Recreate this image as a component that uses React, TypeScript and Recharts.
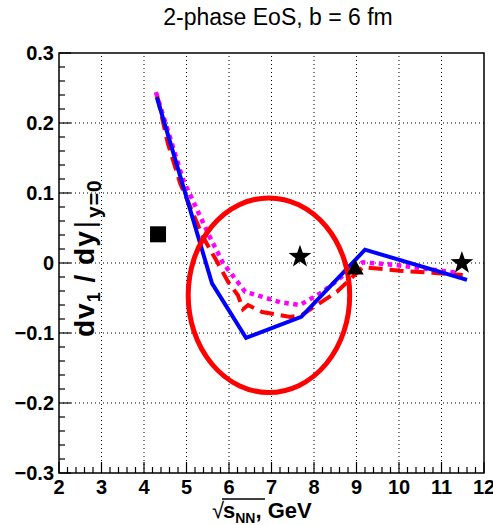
import React from "react";
import {
  ComposedChart,
  XAxis,
  YAxis,
  Line,
  Scatter,
  ReferenceLine,
  ReferenceArea,
} from "recharts";

// axis ticks / labels
const xMajor = [2, 3, 4, 5, 6, 7, 8, 9, 10, 11, 12];
const yMajor = [-0.3, -0.2, -0.1, 0, 0.1, 0.2, 0.3];
const yLabels = ["\u22120.3", "\u22120.2", "\u22120.1", "0", "0.1", "0.2", "0.3"];

// model curves: sqrt(s_NN) [GeV] vs dv1/dy
const blueX = [4.3, 5.6, 6.4, 7.7, 9.2, 11.6];
const blueY = [0.237, -0.029, -0.107, -0.077, 0.019, -0.024];

const redX = [4.31, 4.56, 4.85, 5.39, 5.67, 5.98, 6.21, 6.33, 6.45, 6.78, 7.44, 7.72, 8.54, 9.15, 10.02, 11.5];
const redY = [0.239, 0.171, 0.114, 0.037, 0.007, -0.027, -0.046, -0.066, -0.06, -0.07, -0.077, -0.074, -0.041, -0.006, -0.011, -0.017];

const magX = [4.28, 4.92, 5.55, 5.86, 6.38, 7.2, 7.67, 8.21, 8.85, 9.15, 9.95, 11.36];
const magY = [0.244, 0.119, 0.037, 0.0, -0.041, -0.056, -0.06, -0.041, -0.01, 0.001, -0.003, -0.014];

// experimental points
const squareX = [4.33];
const squareY = [0.041];
const starX = [7.67, 11.48];
const starY = [0.009, 0.0];
const triX = [8.97];
const triY = [-0.008];

// highlighted region (center, half-axes in data units)
const ellipseX = [6.94];
const ellipseY = [-0.046];
const ellipseRx = [1.9];
const ellipseRy = [0.139];

const W = 493;
const H = 525;
const LEFT = 59;
const RIGHT = 9;
const TOP = 53;
const BOTTOM = 52;
const PX_PER_X = (W - LEFT - RIGHT) / 10;
const PX_PER_Y = (H - TOP - BOTTOM) / 0.6;

const FONT = "'Liberation Sans', Arial, Helvetica, sans-serif";

const pts = (xs: number[], ys: number[]) => xs.map((x, i) => ({ x, y: ys[i] }));

const blue = pts(blueX, blueY);
const red = pts(redX, redY);
const magenta = pts(magX, magY);
const squares = pts(squareX, squareY);
const stars = pts(starX, starY);
const tris = pts(triX, triY);
const ellipse = ellipseX.map((x, i) => ({ x, y: ellipseY[i], rx: ellipseRx[i], ry: ellipseRy[i] }));

const xTicks: number[] = [];
xMajor.forEach((v, i) => {
  if (i === xMajor.length - 1) return xTicks.push(v);
  for (let k = 0; k < 5; k++) xTicks.push(Math.round((v + k * 0.2) * 10) / 10);
});
const yTicks: number[] = [];
yMajor.forEach((v, i) => {
  if (i === yMajor.length - 1) return yTicks.push(v);
  for (let k = 0; k < 5; k++) yTicks.push(Math.round((v + k * 0.02) * 100) / 100);
});

const isMajorX = (v: number) => xMajor.includes(v);
const majorYIndex = (v: number) => yMajor.findIndex((m) => Math.abs(m - v) < 1e-6);

function XTick(props: any) {
  const { x, y, payload } = props;
  const major = isMajorX(payload.value);
  return (
    <g>
      <line x1={x} x2={x} y1={y} y2={y - (major ? 11 : 6)} stroke="#000" strokeWidth={1.2} />
      {major && (
        <text x={x} y={y + 21} textAnchor="middle" fontSize={20} fontWeight="bold" fontFamily={FONT} fill="#000">
          {payload.value}
        </text>
      )}
    </g>
  );
}

function YTick(props: any) {
  const { x, y, payload } = props;
  const idx = majorYIndex(payload.value);
  const major = idx >= 0;
  return (
    <g>
      <line x1={x} x2={x + (major ? 12 : 6)} y1={y} y2={y} stroke="#000" strokeWidth={1.2} />
      {major && (
        <text x={x - 5} y={y + 7} textAnchor="end" fontSize={20} fontWeight="bold" fontFamily={FONT} fill="#000">
          {yLabels[idx]}
        </text>
      )}
    </g>
  );
}

function Square(props: any) {
  const { cx, cy } = props;
  return <rect x={cx - 8} y={cy - 8} width={16} height={16} fill="#000" />;
}

function Star(props: any) {
  const { cx, cy } = props;
  const p: string[] = [];
  for (let k = 0; k < 10; k++) {
    const r = k % 2 === 0 ? 12 : 4.8;
    const a = -Math.PI / 2 + (k * Math.PI) / 5;
    p.push(`${cx + r * Math.cos(a)},${cy + r * Math.sin(a)}`);
  }
  return <polygon points={p.join(" ")} fill="#000" />;
}

function Triangle(props: any) {
  const { cx, cy } = props;
  return <polygon points={`${cx},${cy - 9} ${cx + 8.5},${cy + 6} ${cx - 8.5},${cy + 6}`} fill="#000" />;
}

function Ellipse(props: any) {
  const { cx, cy, payload } = props;
  return (
    <ellipse
      cx={cx}
      cy={cy}
      rx={payload.rx * PX_PER_X}
      ry={payload.ry * PX_PER_Y}
      fill="none"
      stroke="#ff0000"
      strokeWidth={5}
    />
  );
}

export default function App() {
  return (
    <div style={{ position: "absolute", left: 0, top: 0, width: W, height: H, background: "#fff" }}>
      <ComposedChart width={W} height={H} margin={{ top: TOP, right: RIGHT, bottom: 0, left: 0 }}>
        <XAxis
          type="number"
          dataKey="x"
          domain={[2, 12]}
          ticks={xTicks}
          interval={0}
          allowDataOverflow
          height={BOTTOM}
          axisLine={false}
          tickLine={false}
          tickSize={0}
          tickMargin={0}
          tick={<XTick />}
        />
        <YAxis
          type="number"
          dataKey="y"
          domain={[-0.3, 0.3]}
          ticks={yTicks}
          interval={0}
          allowDataOverflow
          width={LEFT}
          axisLine={false}
          tickLine={false}
          tickSize={0}
          tickMargin={0}
          tick={<YTick />}
        />
        {xMajor.slice(1, -1).map((v) => (
          <ReferenceLine key={"gx" + v} x={v} stroke="#000" strokeWidth={1} strokeDasharray="1 3" />
        ))}
        {yMajor.slice(1, -1).map((v) => (
          <ReferenceLine key={"gy" + v} y={v} stroke="#000" strokeWidth={1} strokeDasharray="1 3" />
        ))}
        <ReferenceArea x1={2} x2={12} y1={-0.3} y2={0.3} fill="none" fillOpacity={0} stroke="#000" strokeWidth={1.5} />
        <Scatter data={ellipse} shape={<Ellipse />} isAnimationActive={false} />
        <Line data={red} dataKey="y" type="linear" stroke="#ff0000" strokeWidth={4} strokeDasharray="14 7" dot={false} isAnimationActive={false} />
        <Line data={magenta} dataKey="y" type="linear" stroke="#ff00ff" strokeWidth={4.5} strokeDasharray="4.5 4.5" dot={false} isAnimationActive={false} />
        <Line data={blue} dataKey="y" type="linear" stroke="#0000ff" strokeWidth={4} dot={false} isAnimationActive={false} />
        <Scatter data={squares} shape={<Square />} isAnimationActive={false} />
        <Scatter data={stars} shape={<Star />} isAnimationActive={false} />
        <Scatter data={tris} shape={<Triangle />} isAnimationActive={false} />
      </ComposedChart>
      <svg width={W} height={H} style={{ position: "absolute", left: 0, top: 0, pointerEvents: "none" }}>
        <text x={278} y={25} textAnchor="middle" fontSize={23} fontFamily={FONT} fill="#000">
          2-phase EoS, b = 6 fm
        </text>
        <g fontFamily={FONT} fontWeight="bold" fill="#000">
          <text x={212} y={518} fontSize={22} fontWeight="normal">√</text>
          <line x1={222} x2={265} y1={499} y2={499} stroke="#000" strokeWidth={1.3} />
          <text x={223} y={518} fontSize={22}>
            s
            <tspan fontSize={14} dy={5}>NN</tspan>
            <tspan dy={-5}>, GeV</tspan>
          </text>
          <text transform="translate(94,337) rotate(-90)" fontSize={28} letterSpacing={1}>
            dv
            <tspan fontSize={18} dy={6}>1</tspan>
            <tspan dy={-6}> / dy</tspan>
            <tspan fontWeight="normal" dx={2}>|</tspan>
            <tspan fontSize={21} dy={7} dx={2}>y=0</tspan>
          </text>
        </g>
      </svg>
    </div>
  );
}
